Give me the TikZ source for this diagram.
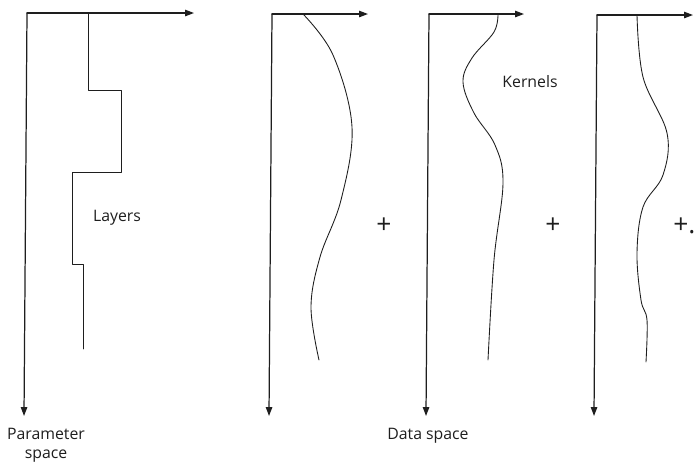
\documentclass[tikz,border=0pt]{standalone}
\usepackage{fontspec}
\setmainfont{Open Sans}
\usetikzlibrary{arrows.meta}
\definecolor{ink}{RGB}{30,30,30}
\tikzset{axis/.style={draw=ink,line width=.7pt,-{Triangle[length=5pt,width=3.6pt]}},
 profile/.style={draw=ink,line width=.5pt},
 label/.style={font=\fontsize{9}{11}\selectfont,text=ink,inner sep=0pt},
 sum/.style={font=\fontsize{15}{15}\selectfont\addfontfeatures{Weight=300},text=ink,inner sep=0pt},
 every picture/.style={line join=round,line cap=round}}

\begin{document}
\begin{tikzpicture}[x=0.02cm,y=-0.02cm]
\useasboundingbox (0,0) rectangle (694,471);
% parameter space
\coordinate (o1) at (27,13);
\coordinate (x1) at (194,13);
\coordinate (y1) at (24,416);
\draw[axis] (o1) -- (x1);
\draw[axis] (o1) -- (y1);
\draw[profile] (88,13) -- (88,90) -- (121,90) -- (121,172) -- (72,172) -- (72,264) -- (83,264) -- (83,349);
\node[label] (layers) at (117,218) {Layers};
\node[label,align=center] (param) at (46,445) {Parameter\\space};
% kernel 1
\coordinate (o2) at (272,14);
\coordinate (x2) at (368,14);
\coordinate (y2) at (269,416);
\draw[axis] (o2) -- (x2);
\draw[axis] (o2) -- (y2);
\draw[profile] plot[smooth,tension=.6] coordinates {(303,14) (333,55) (352,127) (341,200) (320,257) (311,307) (319,360)};
\node[sum] (plusA) at (384,226) {+};
% kernel 2
\coordinate (o3) at (429,14);
\coordinate (x3) at (524,14);
\coordinate (y3) at (426,416);
\draw[axis] (o3) -- (x3);
\draw[axis] (o3) -- (y3);
\draw[profile] plot[smooth,tension=.6] coordinates {(498,14) (494,32) (472,58) (463,82) (474,113) (495,145) (503,183) (494,260) (488,360)};
\node[label] (kernels) at (530,82) {Kernels};
\node[sum] (plusB) at (553,226) {+};
\node[label] (data) at (428,436) {Data space};
% kernel 3
\coordinate (o4) at (597,15);
\coordinate (x4) at (693,15);
\coordinate (y4) at (594,416);
\draw[axis] (o4) -- (x4);
\draw[axis] (o4) -- (y4);
\draw[profile] plot[smooth,tension=.6] coordinates {(637,15) (643,77) (667,133) (663,175) (643,207) (637,253) (641,300) (647,320) (646,362)};
\node[sum,anchor=west] (plusC) at (673,226) {+.};
\end{tikzpicture}
\end{document}
